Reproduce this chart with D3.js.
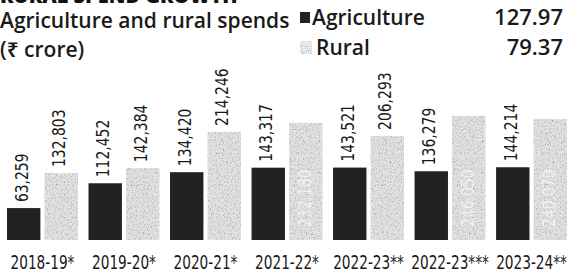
<!DOCTYPE html>
<html>
<head>
<meta charset="utf-8">
<script src="https://cdn.jsdelivr.net/npm/d3@7"></script>
<style>
  html, body { margin: 0; padding: 0; background: #fff; }
  svg { display: block; }
</style>
</head>
<body>
<div id="chart"></div>
<script>
// ---- data ----
const categories = ["2018-19*", "2019-20*", "2020-21*", "2021-22*", "2022-23**", "2022-23***", "2023-24**"];
const agriculture = [63259, 112452, 134420, 143317, 143521, 136279, 144214];
const rural = [132803, 142384, 214246, 232180, 206293, 246050, 240070];
const ruralLabelInside = [false, false, false, true, false, true, true];
const seriesNames = ["Agriculture", "Rural"];
const legendValues = ["127.97", "79.37"];
const titleText = "Agriculture and rural spends";
const subtitleText = "(₹ crore)";
const topHeading = "RURAL SPEND GROWTH";

const W = 570, H = 275;
const svg = d3.select("#chart").append("svg").attr("width", W).attr("height", H);

const defs = svg.append("defs");
const f = defs.append("filter").attr("id", "speckle")
  .attr("x", 0).attr("y", 0).attr("width", 1).attr("height", 1)
  .attr("filterUnits", "objectBoundingBox");
f.append("feTurbulence").attr("type", "fractalNoise").attr("baseFrequency", 0.75)
  .attr("numOctaves", 2).attr("seed", 7).attr("result", "noise");
f.append("feColorMatrix").attr("in", "noise").attr("type", "matrix")
  .attr("values", "0 0 0 0 0.35  0 0 0 0 0.35  0 0 0 0 0.35  3.0 0 0 0 -1.5")
  .attr("result", "specks");
f.append("feComposite").attr("in", "specks").attr("in2", "SourceGraphic")
  .attr("operator", "in").attr("result", "clipped");
const m = f.append("feMerge");
m.append("feMergeNode").attr("in", "SourceGraphic");
m.append("feMergeNode").attr("in", "clipped");

const narrow = "'DejaVu Sans Condensed', 'Liberation Sans Narrow', sans-serif";
const openSans = "'Open Sans', 'Noto Sans', sans-serif";

// cut-off top heading
svg.append("text").attr("x", 0).attr("y", 3)
  .attr("font-family", openSans).attr("font-weight", 800).attr("font-size", 20)
  .attr("fill", "#111").text(topHeading);

// title
svg.append("text").attr("x", 0).attr("y", 28)
  .attr("font-family", openSans).attr("font-weight", 600).attr("font-size", 21)
  .attr("fill", "#1a1a1a").text(titleText);
svg.append("text").attr("x", 0).attr("y", 57)
  .attr("font-family", openSans).attr("font-weight", 600).attr("font-size", 21)
  .attr("fill", "#1a1a1a").text(subtitleText);

// legend
const legendY = [25, 55];
svg.append("rect").attr("x", 300).attr("y", 12).attr("width", 10).attr("height", 11).attr("fill", "#222");
svg.append("rect").attr("x", 300).attr("y", 41).attr("width", 12).attr("height", 13)
  .attr("fill", "#ececec").attr("filter", "url(#speckle)");
seriesNames.forEach((s, i) => {
  svg.append("text").attr("x", i === 0 ? 312 : 316).attr("y", legendY[i])
    .attr("font-family", openSans).attr("font-weight", 600).attr("font-size", 21)
    .attr("fill", "#1a1a1a").text(s);
  svg.append("text").attr("x", 563).attr("y", legendY[i]).attr("text-anchor", "end")
    .attr("font-family", openSans).attr("font-weight", 600).attr("font-size", 22)
    .attr("fill", "#1a1a1a").text(legendValues[i]);
});

// scales
const x0 = d3.scaleBand().domain(categories).range([7, 567]).paddingInner(0.13).paddingOuter(0);
const x1 = d3.scaleBand().domain(seriesNames).range([0, x0.bandwidth()]).paddingInner(0.11);
const y = d3.scaleLinear().domain([0, 250000]).range([240, 240 - 250000 / 1982]);

const fmt = d3.format(",");
const data = categories.map((c, i) => ({ c, vals: [agriculture[i], rural[i]], inside: ruralLabelInside[i] }));

const g = svg.append("g");
const groups = g.selectAll("g.grp").data(data).join("g")
  .attr("class", "grp").attr("transform", d => `translate(${x0(d.c)},0)`);

groups.each(function(d) {
  const sel = d3.select(this);
  d.vals.forEach((v, k) => {
    const bx = x1(seriesNames[k]);
    const bw = x1.bandwidth();
    sel.append("rect").attr("x", bx).attr("y", y(v)).attr("width", bw).attr("height", y(0) - y(v))
      .attr("fill", k === 0 ? "#222" : "#e2e2e2")
      .attr("filter", k === 0 ? null : "url(#speckle)");
    const cx = bx + bw / 2 + 5;
    if (k === 1 && d.inside) {
      sel.append("text").attr("transform", `translate(${cx},${y(0) - 13}) rotate(-90) scale(0.86,1)`)
        .attr("font-family", narrow).attr("font-size", 18).attr("fill", "#f6f6f6")
        .attr("opacity", 0.8).text(fmt(v));
    } else {
      sel.append("text").attr("transform", `translate(${cx - 1},${y(v) - 6}) rotate(-90) scale(0.86,1)`)
        .attr("font-family", narrow).attr("font-size", 18).attr("fill", "#1a1a1a").text(fmt(v));
    }
  });
});

// category axis labels
g.selectAll("text.cat").data(categories).join("text").attr("class", "cat")
  .attr("transform", d => `translate(${x0(d) + x0.bandwidth() / 2},269) scale(0.8,1)`)
  .attr("text-anchor", "middle").attr("font-family", narrow).attr("font-size", 19)
  .attr("fill", "#1a1a1a").text(d => d);
</script>
</body>
</html>
